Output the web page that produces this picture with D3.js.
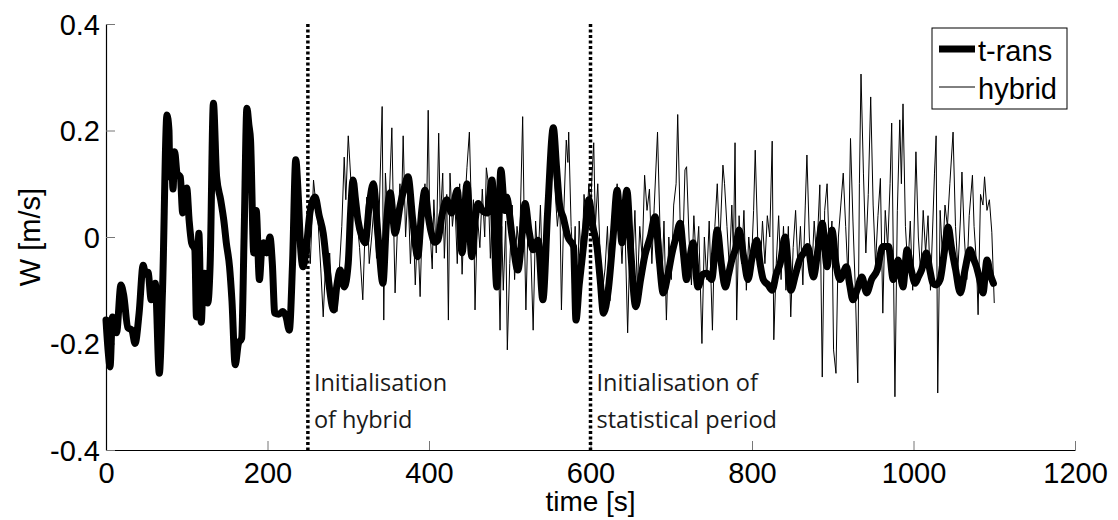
<!DOCTYPE html>
<html>
<head>
<meta charset="utf-8">
<script src="https://cdn.jsdelivr.net/npm/d3@7"></script>
<style>
  body { margin: 0; background: #fff; }
  svg { display: block; }
</style>
</head>
<body>
<div id="chart"></div>
<script>
// t-rans series, [time s, W m/s]
const transData = [
  [0,-0.156],[3,-0.22],[5,-0.244],[8,-0.15],[13,-0.18],[18.5,-0.09],[22,-0.11],[27,-0.17],[32,-0.175],
  [36,-0.2],[41,-0.143],[46,-0.053],[49,-0.07],[52,-0.066],[56,-0.118],[61,-0.087],[66,-0.256],[70,-0.1],
  [75.5,0.229],[78,0.2],[79,0.113],[81,0.16],[83,0.09],[85,0.16],[88,0.12],[92,0.113],[95,0.045],[97,0.08],
  [100,0.092],[103,0.03],[106,-0.011],[110,-0.024],[112,-0.15],[115,0.007],[118,-0.16],[120,-0.09],
  [122,-0.068],[126,-0.124],[129,-0.05],[133,0.251],[137,0.113],[142,0.07],[146,0.03],[149,-0.011],
  [153,-0.056],[156,-0.12],[160,-0.24],[164,-0.2],[168,-0.19],[171,0.0],[174.5,0.242],[177,0.21],
  [179,0.182],[183,-0.03],[186,0.05],[190,-0.08],[193,-0.02],[195,-0.011],[199,-0.03],[203,0.0],
  [206,-0.05],[209,-0.143],[214,-0.145],[219,-0.14],[223,-0.15],[227,-0.175],[231,-0.05],[235,0.145],
  [238,0.08],[241,-0.02],[244,-0.056],[248,-0.02],[253,0.05],[259,0.075],[264,0.04],[269,0.007],
  [275,-0.075],[282,-0.137],[286,-0.09],[290,-0.062],[295,-0.094],[300,-0.049],[303,0.05],[306,0.107],
  [309,0.07],[312,0.032],[317,0.0],[321,-0.011],[326,0.06],[331,0.1],[337,0.0],[343,-0.087],[347,0.02],
  [352,0.083],[358,0.007],[364,0.057],[369,0.09],[374,0.113],[380,0.03],[386,-0.037],[391,0.05],
  [395,0.088],[399,0.04],[403,0.007],[407,-0.01],[411,-0.006],[416,0.04],[422,0.07],[428,0.045],
  [435,0.088],[441,-0.03],[447,0.1],[453,-0.037],[457,0.03],[461,0.063],[466,0.05],[472,0.045],
  [478,0.107],[484,-0.094],[489,0.126],[494,0.05],[496,0.075],[503,0.0],[510,-0.062],[515,0.0],
  [519,0.063],[524,0.01],[529,-0.024],[535,-0.006],[541,-0.118],[547,0.05],[554,0.205],[558,0.13],
  [562,0.057],[566,0.038],[572,0.0],[579,-0.018],[582,-0.156],[586,-0.09],[589,-0.049],[594,0.02],
  [598,0.07],[603,0.019],[608,-0.018],[612,-0.08],[616,-0.143],[622,-0.1],[628,0.0],[633,0.088],
  [636,0.04],[639,-0.011],[645,0.088],[650,-0.03],[656,-0.131],[662,-0.08],[667,-0.037],[674,0.0],
  [680,0.038],[685,-0.04],[690,-0.105],[696,-0.07],[701,-0.03],[706,0.0],[711,0.026],[715,-0.03],
  [719,-0.08],[723,-0.04],[727,-0.011],[733,-0.094],[739,-0.07],[744,-0.068],[750,-0.08],[757,0.013],
  [762,-0.05],[767,-0.094],[771,-0.07],[775,-0.043],[780,-0.02],[784,0.013],[790,-0.04],[795,-0.08],
  [800,-0.04],[806,-0.006],[810,-0.05],[814,-0.08],[820,-0.09],[825,-0.1],[830,-0.07],[835,-0.049],
  [841,0.0],[848,-0.1],[854,-0.07],[859,-0.043],[864,-0.03],[869,-0.018],[876,-0.075],[882,-0.02],
  [887,0.026],[893,-0.056],[896,-0.02],[899,0.013],[904,-0.05],[909,-0.08],[917,-0.056],[921,-0.09],
  [925,-0.118],[930,-0.1],[936,-0.075],[942,-0.105],[948,-0.08],[955,-0.062],[962,-0.018],[969,-0.018],
  [975,-0.08],[981,-0.043],[987,-0.094],[992,-0.024],[997,-0.06],[1002,-0.087],[1006,-0.075],
  [1010,-0.062],[1016,-0.03],[1020,-0.06],[1024,-0.087],[1028,-0.09],[1033,-0.08],[1038,-0.03],
  [1043,0.019],[1047,-0.02],[1052,-0.06],[1058,-0.105],[1064,-0.06],[1070,-0.024],[1074,-0.04],
  [1078,-0.056],[1082,-0.08],[1086,-0.105],[1091,-0.043],[1095,-0.07],[1099,-0.087]
];

// hybrid series, [time s, W m/s]
const hybridData = [
  [250,0.03],[253,-0.05],[257,0.107],[260,0.06],[263,0.02],[266,-0.06],[269,-0.15],[272,-0.05],
  [275,-0.08],[277,-0.03],[280,-0.12],[283,-0.1],[286,-0.14],[289,-0.06],[292,0.02],[295,0.15],
  [297,0.07],[300,0.19],[302,0.139],[305,0.06],[308,0.1],[311,0.03],[314,-0.02],[318,-0.118],
  [321,0.02],[323,0.075],[326,-0.05],[329,0.0],[332,0.06],[335,-0.04],[338,0.03],[342,0.245],
  [344,-0.156],[346,0.12],[349,0.03],[351,0.08],[354,0.205],[356,0.04],[358,-0.105],[361,0.02],
  [364,0.1],[366,0.05],[368,0.19],[371,0.0],[374,0.09],[377,-0.05],[380,0.05],[383,-0.09],
  [386,0.02],[389,-0.112],[392,0.05],[395,0.1],[397,0.04],[399,0.238],[401,0.02],[404,-0.06],
  [406,0.07],[409,-0.03],[412,0.195],[414,0.03],[417,0.12],[419,-0.04],[422,0.08],[424,-0.156],
  [426,0.12],[429,0.02],[432,0.07],[435,-0.05],[438,0.1],[441,-0.07],[444,0.05],[447,0.13],
  [450,0.197],[453,0.02],[455,0.07],[457,-0.137],[460,0.04],[463,-0.02],[466,0.09],[469,0.0],
  [471,0.13],[473,0.107],[476,-0.04],[479,0.08],[482,-0.06],[485,0.04],[488,-0.175],[490,0.02],
  [492,-0.1],[495,0.03],[497,-0.212],[500,-0.05],[503,0.06],[506,-0.08],[509,0.02],[512,-0.03],
  [516,0.226],[518,0.02],[520,-0.137],[523,0.05],[526,-0.02],[529,-0.175],[532,0.03],[535,-0.05],
  [538,0.06],[541,-0.1],[544,0.02],[547,0.12],[550,0.06],[553,0.15],[556,0.09],[559,0.02],
  [562,0.07],[564,-0.137],[567,0.05],[570,0.182],[572,0.14],[573,0.197],[576,0.02],[579,-0.06],
  [581,0.02],[583,-0.156],[586,0.03],[589,-0.06],[592,0.08],[595,0.02],[598,0.1],[600,0.05],
  [602,0.12],[604,0.177],[606,0.02],[609,0.1],[612,-0.04],[615,-0.1],[618,-0.06],[621,0.02],
  [624,-0.12],[627,0.0],[630,0.06],[633,0.1],[636,0.04],[639,-0.05],[642,0.06],[646,-0.18],
  [649,0.0],[652,-0.06],[655,0.05],[658,-0.1],[661,0.02],[664,-0.04],[667,0.116],[670,0.05],
  [673,0.09],[676,-0.05],[679,0.06],[683,0.197],[686,0.02],[689,-0.06],[691,0.03],[694,-0.156],
  [697,0.0],[700,-0.08],[703,0.06],[706,0.1],[708,0.23],[711,0.03],[714,-0.04],[717,0.126],
  [719,0.132],[722,0.0],[725,-0.09],[728,0.04],[731,-0.05],[734,0.02],[738,-0.2],[741,0.0],
  [744,-0.08],[747,0.03],[751,-0.175],[754,0.02],[757,0.1],[760,-0.02],[764,0.135],[766,0.1],
  [769,0.02],[772,-0.06],[775,0.06],[777,-0.03],[779,0.177],[781,-0.156],[784,0.04],[787,-0.05],
  [790,0.05],[793,-0.1],[796,0.0],[799,-0.06],[802,0.05],[804,0.163],[807,0.0],[810,-0.07],
  [813,0.03],[816,-0.05],[819,0.04],[822,0.0],[825,0.18],[827,-0.193],[830,-0.05],[833,0.04],
  [836,-0.08],[839,0.02],[842,-0.1],[845,0.02],[848,-0.15],[851,-0.02],[854,0.05],[857,-0.06],
  [860,0.02],[863,-0.09],[866,0.06],[868,0.154],[871,0.0],[874,-0.07],[877,0.03],[880,-0.04],
  [884,0.098],[887,-0.263],[890,0.05],[893,0.1],[896,-0.04],[899,0.03],[901,-0.212],[904,-0.256],
  [907,0.0],[910,0.06],[913,0.12],[916,0.02],[919,-0.08],[922,0.185],[925,0.03],[928,-0.1],
  [931,-0.274],[933,0.1],[935,0.306],[938,0.12],[941,-0.03],[944,0.08],[947,0.263],[950,0.06],
  [953,-0.05],[956,0.04],[959,0.11],[962,-0.143],[965,0.05],[968,-0.02],[971,0.1],[973,0.214],
  [975,-0.03],[977,-0.3],[980,0.05],[983,0.22],[985,0.1],[987,0.25],[990,0.02],[993,-0.06],
  [996,0.03],[999,-0.1],[1003,0.16],[1006,0.0],[1009,-0.07],[1012,0.05],[1015,-0.03],[1018,0.04],
  [1021,-0.1],[1024,0.03],[1026,0.12],[1028,0.19],[1030,-0.293],[1033,0.05],[1036,-0.04],
  [1039,0.06],[1042,0.02],[1045,0.1],[1049,0.197],[1052,0.02],[1055,-0.06],[1058,0.03],
  [1060,0.122],[1063,0.0],[1066,-0.08],[1069,0.04],[1073,0.116],[1075,0.02],[1078,-0.05],
  [1080,-0.146],[1083,0.08],[1086,0.06],[1088,0.113],[1091,0.05],[1094,0.07],[1097,0.009],[1100,-0.124]
];

const xTicks = [0, 200, 400, 600, 800, 1000, 1200];
const yTicks = [-0.4, -0.2, 0, 0.2, 0.4];
const markerTimes = [250, 600];
const markerNotes = [
  ["Initialisation", "of hybrid"],
  ["Initialisation of", "statistical period"]
];
const seriesNames = ["t-rans", "hybrid"];

const width = 1118, height = 520;
const plotLeft = 106, plotRight = 1075, plotTop = 24, plotBottom = 450;

const svg = d3.select("#chart").append("svg")
    .attr("width", width)
    .attr("height", height);

const x = d3.scaleLinear().domain([0, 1200]).range([plotLeft, plotRight]);
const y = d3.scaleLinear().domain([-0.4, 0.4]).range([plotBottom, plotTop]);

const tickFont = "'Liberation Sans', Arial, sans-serif";

// axes, ticks pointing inward like MATLAB
const xAxis = svg.append("g")
    .attr("transform", `translate(0,${plotBottom})`)
    .call(d3.axisBottom(x).tickValues(xTicks).tickSize(-9).tickSizeOuter(0).tickPadding(12)
        .tickFormat(d => String(d)));
xAxis.select(".domain").attr("stroke", "#000").attr("stroke-width", 1.2);
xAxis.selectAll(".tick line").attr("stroke", "#777");
xAxis.selectAll(".tick text")
    .attr("font-family", tickFont).attr("font-size", 29).attr("fill", "#000")
    .attr("dy", "0.72em");

// plain hyphen for negatives, like the original
const yFormat = d => d === 0 ? "0" : d.toFixed(1);
const yAxis = svg.append("g")
    .attr("transform", `translate(${plotLeft},0)`)
    .call(d3.axisLeft(y).tickValues(yTicks).tickSize(-9).tickSizeOuter(0).tickPadding(6)
        .tickFormat(yFormat));
yAxis.select(".domain").attr("stroke", "#000").attr("stroke-width", 1.2);
yAxis.selectAll(".tick line").attr("stroke", "#777");
yAxis.selectAll(".tick text")
    .attr("font-family", tickFont).attr("font-size", 29).attr("fill", "#000")
    .attr("dy", "0.36em");

// axis titles
svg.append("text")
    .attr("x", (plotLeft + plotRight) / 2).attr("y", 511)
    .attr("text-anchor", "middle")
    .attr("font-family", tickFont).attr("font-size", 28)
    .text("time [s]");

svg.append("text")
    .attr("transform", `translate(40,${(plotTop + plotBottom) / 2}) rotate(-90)`)
    .attr("text-anchor", "middle")
    .attr("font-family", tickFont).attr("font-size", 29)
    .text("W [m/s]");

// lines
svg.append("path")
    .datum(transData)
    .attr("fill", "none")
    .attr("stroke", "#000")
    .attr("stroke-width", 7)
    .attr("stroke-linejoin", "round")
    .attr("stroke-linecap", "round")
    .attr("d", d3.line().x(d => x(d[0])).y(d => y(d[1])).curve(d3.curveMonotoneX));

svg.append("path")
    .datum(hybridData)
    .attr("fill", "none")
    .attr("stroke", "#000")
    .attr("stroke-width", 1)
    .attr("d", d3.line().x(d => x(d[0])).y(d => y(d[1])));

// dotted markers and notes
svg.selectAll(".marker")
    .data(markerTimes)
    .join("line")
    .attr("class", "marker")
    .attr("x1", d => x(d)).attr("x2", d => x(d))
    .attr("y1", y(0.4)).attr("y2", y(-0.4))
    .attr("stroke", "#000")
    .attr("stroke-width", 3.5)
    .attr("stroke-dasharray", "3,2.5");

const noteFont = "'Open Sans', 'Noto Sans', sans-serif";
markerTimes.forEach((t, i) => {
    const note = svg.append("text")
        .attr("font-family", noteFont)
        .attr("font-size", 23.5)
        .attr("fill", "#1a1a1a");
    note.append("tspan").attr("x", x(t) + 6).attr("y", 391).text(markerNotes[i][0]);
    note.append("tspan").attr("x", x(t) + 6).attr("y", 428).text(markerNotes[i][1]);
});

// legend
const legend = svg.append("g");
legend.append("rect")
    .attr("x", 932).attr("y", 28)
    .attr("width", 135).attr("height", 81)
    .attr("fill", "#fff").attr("stroke", "#000").attr("stroke-width", 1);

const legendRows = [
    { name: seriesNames[0], w: 7, ly: 49, ty: 61 },
    { name: seriesNames[1], w: 1, ly: 87, ty: 99 }
];
legendRows.forEach(r => {
    legend.append("line")
        .attr("x1", 939).attr("x2", 975)
        .attr("y1", r.ly).attr("y2", r.ly)
        .attr("stroke", "#000").attr("stroke-width", r.w);
    legend.append("text")
        .attr("x", 978).attr("y", r.ty)
        .attr("font-family", tickFont).attr("font-size", 29)
        .text(r.name);
});
</script>
</body>
</html>
